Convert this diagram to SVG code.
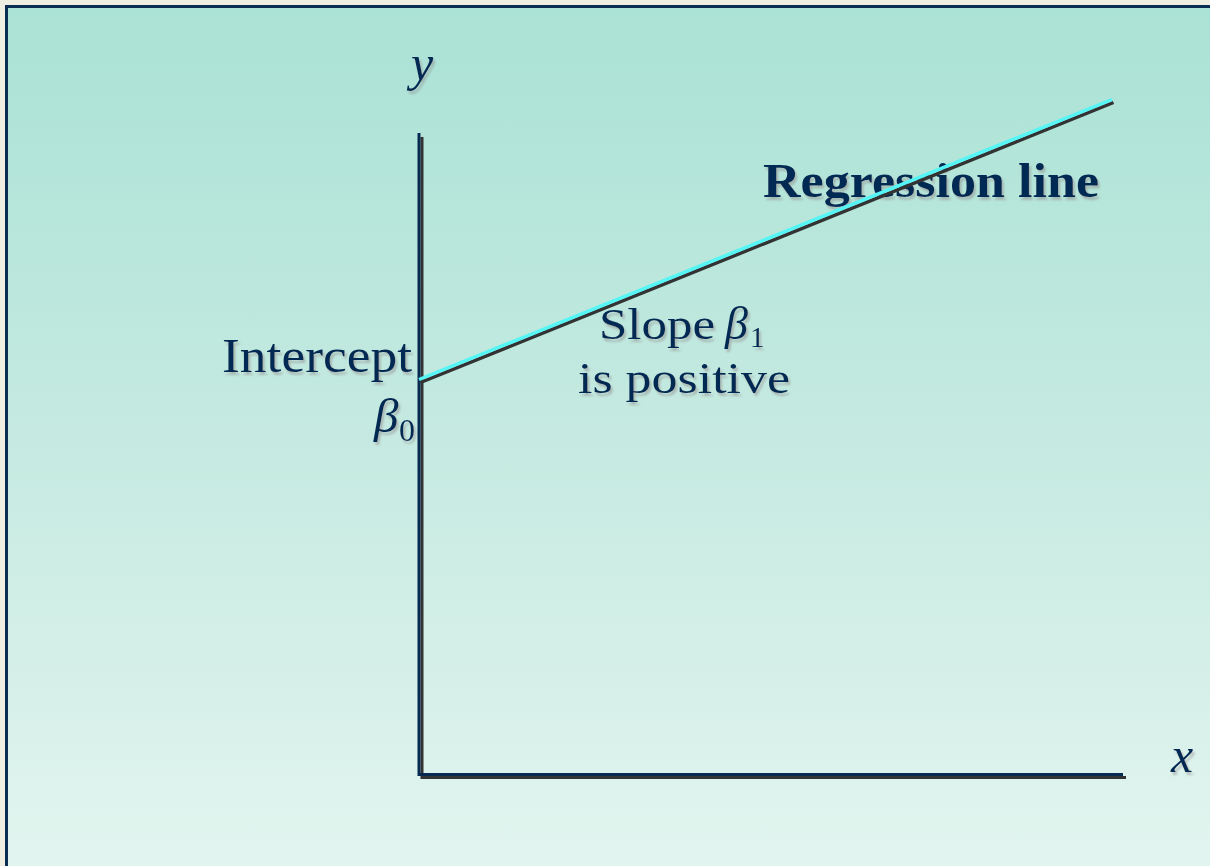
<svg xmlns="http://www.w3.org/2000/svg" width="1210" height="866" viewBox="0 0 1210 866">
<defs>
<linearGradient id="bg" x1="0" y1="0" x2="0" y2="1">
<stop offset="0" stop-color="#aae2d5"/>
<stop offset="0.5" stop-color="#c6eae1"/>
<stop offset="1" stop-color="#e4f5f0"/>
</linearGradient>
<filter id="sh" x="-10%" y="-20%" width="130%" height="150%">
<feDropShadow dx="2" dy="3" stdDeviation="1" flood-color="#8a7f80" flood-opacity="0.45"/>
</filter>
</defs>
<style>
.t{font-family:"Liberation Serif","DejaVu Serif",serif;fill:#062a52;filter:url(#sh)}
.i{font-style:italic}
.b{font-weight:bold}
.ax{stroke:#062a52;stroke-width:3;fill:none}
.axs{stroke:#333333;stroke-width:3;fill:none}
</style>
<rect x="0" y="0" width="1210" height="866" fill="#eeeee2"/>
<rect x="6.5" y="6.5" width="1220" height="880" fill="url(#bg)" stroke="#0b2d52" stroke-width="3"/>
<g id="labels">
<text id="label-y" class="t i" x="411" y="80" font-size="50">y</text>
<text id="label-x" class="t i" x="1171" y="772" font-size="50">x</text>
<text id="label-intercept" class="t" x="222" y="372" font-size="49" textLength="190" lengthAdjust="spacingAndGlyphs">Intercept</text>
<text id="label-beta0" class="t"><tspan class="i" x="374" y="432" font-size="49">β</tspan><tspan x="399" y="441" font-size="32">0</tspan></text>
<text id="label-slope" class="t"><tspan x="599" y="339" font-size="45" textLength="116" lengthAdjust="spacingAndGlyphs">Slope</tspan><tspan class="i" x="725" y="339" font-size="46">β</tspan><tspan x="750" y="347" font-size="29">1</tspan></text>
<text id="label-positive" class="t" x="578" y="393" font-size="45" textLength="212" lengthAdjust="spacingAndGlyphs">is positive</text>
<text id="label-regression" class="t b" x="763" y="197" font-size="49" textLength="336" lengthAdjust="spacingAndGlyphs">Regression line</text>
</g>
<g id="connectors">
<line class="axs" x1="422" y1="137" x2="422" y2="779"/>
<line class="axs" x1="421" y1="777.5" x2="1126" y2="777.5"/>
<line class="ax" x1="419" y1="133" x2="419" y2="776"/>
<line class="ax" x1="418" y1="774.5" x2="1123" y2="774.5"/>
<line x1="420.5" y1="382.5" x2="1113.5" y2="102.5" stroke="#333333" stroke-width="3.5"/>
<line x1="419" y1="379.5" x2="1112" y2="99.5" stroke="#55f5f5" stroke-width="3.5"/>
</g>
</svg>
